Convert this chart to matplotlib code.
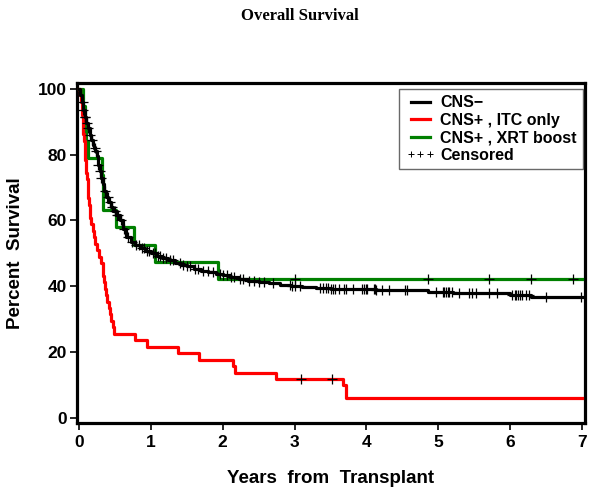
import numpy as np
import matplotlib
matplotlib.use('Agg')
import matplotlib.pyplot as plt
from matplotlib.lines import Line2D

plt.rcParams['font.family'] = ['Liberation Sans', 'DejaVu Sans']

# Kaplan-Meier step data (years, percent surviving)
black_t = [0, 0.02, 0.04, 0.06, 0.08, 0.10, 0.12, 0.15, 0.17, 0.19, 0.21, 0.23, 0.25, 0.27,
           0.29, 0.31, 0.33, 0.35, 0.38, 0.41, 0.44, 0.48, 0.52, 0.57, 0.61, 0.66, 0.72, 0.78,
           0.85, 0.92, 1.00, 1.08, 1.16, 1.24, 1.33, 1.42, 1.50, 1.60, 1.70, 1.80, 1.90, 2.00,
           2.10, 2.22, 2.35, 2.50, 2.65, 2.80, 2.95, 3.10, 3.30, 3.50, 3.75, 4.13, 4.85, 5.20,
           5.99, 6.29]
black_s = [100, 98, 96, 93.5, 91.5, 89.5, 88, 86, 84.5, 83, 82, 81, 79.5, 77,
           75, 73, 71, 69, 67, 65.5, 64, 63, 61.5, 60, 57.5, 55, 53.5, 52.5,
           51.5, 50.8, 50, 49.2, 48.5, 47.8, 47, 46.4, 46, 45.3, 44.7, 44.2, 43.8, 43.3,
           42.8, 42.2, 41.6, 41.2, 40.8, 40.4, 40.1, 39.8, 39.5, 39.2, 39.0, 38.7, 38.2, 37.8,
           37.2, 36.6]
black_cens = [0.05, 0.06, 0.08, 0.09, 0.11, 0.13, 0.15, 0.18, 0.22, 0.24, 0.27, 0.29, 0.31,
              0.36, 0.40, 0.43, 0.46, 0.50, 0.53, 0.55, 0.59, 0.63, 0.68, 0.74, 0.80, 0.83,
              0.88, 0.90, 0.95, 0.98, 1.03, 1.06, 1.10, 1.13, 1.17, 1.21, 1.26, 1.31, 1.40,
              1.45, 1.50, 1.55, 1.61, 1.66, 1.72, 1.79, 1.86, 1.96, 2.01, 2.06, 2.11, 2.16,
              2.24, 2.28, 2.37, 2.44, 2.51, 2.58, 2.70, 2.93, 2.97, 3.01, 3.07, 3.35, 3.39,
              3.43, 3.47, 3.51, 3.53, 3.56, 3.62, 3.69, 3.72, 3.81, 3.94, 3.97, 4.00, 4.01,
              4.11, 4.12, 4.13, 4.21, 4.32, 4.53, 4.57, 4.97, 5.06, 5.08, 5.11, 5.13, 5.15,
              5.19, 5.29, 5.43, 5.47, 5.53, 5.71, 5.81, 6.03, 6.06, 6.08, 6.11, 6.14, 6.17,
              6.22, 6.26, 6.50, 6.99]

red_t = [0, 0.02, 0.03, 0.04, 0.05, 0.06, 0.07, 0.08, 0.09, 0.10,
         0.11, 0.12, 0.13, 0.14, 0.15, 0.16, 0.17, 0.19, 0.21, 0.23,
         0.25, 0.28, 0.30, 0.33, 0.34, 0.35, 0.36, 0.37, 0.39, 0.42,
         0.43, 0.45, 0.47, 0.49, 0.78, 0.94, 1.38, 1.67, 2.14, 2.17,
         2.74, 3.68, 3.72]
red_s = [100, 98.0, 96.1, 92.2, 90.2, 86.3, 84.3, 80.4, 78.4, 74.5,
         72.5, 70.6, 66.7, 64.7, 62.7, 60.8, 58.8, 56.9, 54.9, 52.9,
         51.0, 49.0, 47.1, 45.1, 43.1, 41.2, 39.2, 37.3, 35.3, 33.3,
         31.4, 29.4, 27.5, 25.5, 23.5, 21.6, 19.6, 17.6, 15.7, 13.7,
         11.8, 9.8, 5.9]
red_cens = [3.09, 3.52]

green_t = [0, 0.06, 0.08, 0.10, 0.13, 0.32, 0.33, 0.34, 0.52, 0.77, 1.06, 1.93]
green_s = [100, 94.7, 89.5, 84.2, 78.9, 73.7, 68.4, 63.2, 57.9, 52.6, 47.4, 42.1]
green_cens = [3.00, 4.85, 5.71, 6.29, 6.88]

end_time = 7.0
x_ticks = [0, 1, 2, 3, 4, 5, 6, 7]
y_ticks = [0, 20, 40, 60, 80, 100]


def surv_at(times, surv, t):
	i = np.searchsorted(times, t, side='right') - 1
	return np.asarray(surv)[i]


def km_line(ax, times, surv, colour, cens):
	ax.step(list(times) + [end_time], list(surv) + [surv[-1]], where='post',
			color=colour, lw=2.3, zorder=3)
	ax.plot(cens, surv_at(times, surv, cens), ls='none', marker='+', ms=7,
			mew=0.9, color='black', zorder=4)


fig = plt.figure(figsize=(6, 4.94), dpi=100)
ax = fig.add_axes([0.128, 0.144, 0.847, 0.688])

km_line(ax, green_t, green_s, '#008000', green_cens)
km_line(ax, red_t, red_s, '#ff0000', red_cens)
km_line(ax, black_t, black_s, 'black', black_cens)

ax.set_xlim(-0.03, 7.04)
ax.set_ylim(-1.6, 101.8)
ax.set_xticks(x_ticks)
ax.set_yticks(y_ticks)
ax.tick_params(direction='out', length=5, width=1.2, labelsize=12.5)
ax.tick_params(axis='y', pad=2)
ax.tick_params(axis='x', pad=4)
for lab in ax.get_xticklabels() + ax.get_yticklabels():
	lab.set_fontweight('bold')
for s in ax.spines.values():
	s.set_linewidth(2.3)

ax.set_xlabel('Years  from  Transplant', fontsize=13.5, fontweight='bold', labelpad=14)
ax.set_ylabel('Percent  Survival', fontsize=13.5, fontweight='bold', labelpad=10)
fig.text(0.5, 0.968, 'Overall Survival', ha='center', va='center', fontsize=12,
		 fontweight='bold', family='Liberation Serif')

handles = [Line2D([], [], color='black', lw=2.3),
		   Line2D([], [], color='#ff0000', lw=2.3),
		   Line2D([], [], color='#008000', lw=2.3),
		   Line2D([], [], color='black', ls='none', marker='+', ms=4, mew=0.7)]
labels = ['CNS\u2212', 'CNS+ , ITC only', 'CNS+ , XRT boost', 'Censored']
leg = ax.legend(handles, labels, loc='upper right', bbox_to_anchor=(0.996, 0.982),
				borderaxespad=0, fancybox=False, numpoints=3, handlelength=1.8,
				handletextpad=0.35, labelspacing=0.15, borderpad=0.4,
				prop={'size': 11.5, 'weight': 'bold'})
leg.get_frame().set_edgecolor('#444444')
leg.get_frame().set_linewidth(1.0)

plt.savefig('out.png', dpi=100)
